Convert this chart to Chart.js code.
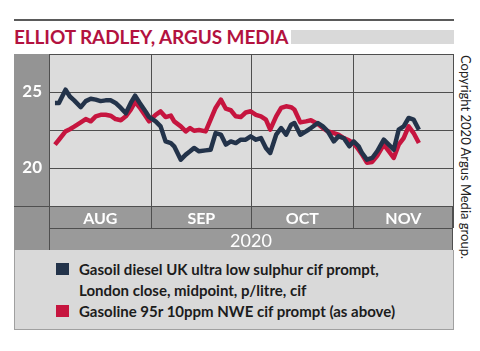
<!DOCTYPE html>
<html>
<head>
<meta charset="utf-8">
<script src="https://cdn.jsdelivr.net/npm/chart.js@4.4.1/dist/chart.umd.min.js"></script>
<style>
  body { margin: 0; background: #fff; font-family: Lato, sans-serif; }
  #page { position: relative; width: 480px; height: 351px; overflow: hidden; }
  #rule { position: absolute; left: 14px; top: 19px; width: 440px; height: 2px; background: #5a5a5a; }
  #title { position: absolute; left: 14px; top: 25px; font: bold 19px Lato, sans-serif; color: #b3123f; white-space: nowrap; letter-spacing: -0.1px; }
  #titlebar { position: absolute; left: 291px; top: 30px; width: 163px; height: 14px; background: #d9d9d9; }
  #chartbox { position: absolute; left: 14px; top: 54px; width: 440px; height: 196px; }
  #legend { position: absolute; left: 14px; top: 250px; width: 438px; height: 79px; background: #d9d9d9; border: 1px solid #a0a0a0; border-top: none; }
  .item { position: absolute; left: 64px; font: bold 15px Lato, sans-serif; line-height: 21px; color: #1c1c1c; white-space: nowrap; }
  .sw { position: absolute; left: -23px; top: 4px; width: 13px; height: 12px; }
  #copy { position: absolute; left: 458px; top: 55px; writing-mode: vertical-rl; font: 13px Lato, sans-serif; color: #222; white-space: nowrap; }
</style>
</head>
<body>
<div id="page">
  <div id="rule"></div>
  <div id="title">ELLIOT RADLEY, ARGUS MEDIA</div>
  <div id="titlebar"></div>
  <div id="chartbox"><canvas id="chart"></canvas></div>
  <div id="legend"></div>
  <div id="copy">Copyright 2020 Argus Media group.</div>
</div>
<script>
// days since 1 Aug 2020
const days = [1.8, 3.0, 5.0, 6.3, 7.6, 9.6, 11.1, 12.6, 14.1, 15.6, 17.1, 18.6, 20.1, 21.7, 23.2, 24.7, 26.0, 27.4, 29.2, 30.2,
  32.2, 33.7, 35.2, 36.8, 37.8, 39.8, 41.3, 42.6, 43.8, 45.3, 47.3, 48.8, 50.3, 51.9, 53.4, 54.9, 56.4, 57.9, 59.4, 60.9,
  62.5, 64.0, 65.5, 66.8, 68.6, 70.1, 71.6, 73.1, 74.1, 75.9, 77.6, 79.1, 81.2, 82.7, 84.2, 86.0, 87.4, 89.0, 90.7,
  92.0, 93.5, 94.5, 96.0, 97.6, 99.1, 101.1, 102.6, 104.1, 105.6, 107.1, 108.6, 110.1, 111.7];

// p/litre
const gasoil = [24.28, 24.28, 25.15, 24.7, 24.45, 24.0, 24.4, 24.56, 24.5, 24.4, 24.45, 24.45, 24.28, 23.95, 23.6, 24.28, 24.76, 24.28, 23.7, 23.36,
  23.07, 22.74, 21.75, 21.64, 21.43, 20.55, 20.88, 21.1, 21.32, 21.1, 21.16, 21.2, 22.3, 22.2, 21.54, 21.75, 21.64, 21.86, 21.86, 22.08,
  21.86, 21.97, 21.32, 20.99, 22.19, 22.63, 22.19, 22.85, 22.96, 22.19, 22.41, 22.63, 22.96, 22.74, 22.41, 21.75, 22.08, 21.97, 21.43,
  21.75, 21.43, 20.99, 20.55, 20.66, 21.1, 21.86, 21.54, 21.2, 22.52, 22.74, 23.29, 23.18, 22.52];

const gasoline = [21.54, 21.86, 22.41, 22.55, 22.72, 23.0, 23.22, 23.07, 23.4, 23.5, 23.5, 23.44, 23.22, 23.14, 23.4, 23.84, 24.35, 23.98, 23.4, 23.07,
  23.5, 23.72, 23.35, 23.45, 23.07, 22.74, 22.41, 22.63, 22.45, 22.5, 22.41, 23.18, 23.95, 24.5, 23.9, 23.8, 23.4, 23.35, 23.65, 23.73,
  23.5, 23.4, 23.18, 22.52, 23.4, 23.95, 24.06, 24.0, 23.85, 23.0, 23.07, 23.14, 22.9, 22.63, 22.41, 22.3, 22.2, 21.97, 21.8,
  21.64, 21.2, 20.9, 20.35, 20.4, 20.8, 21.54, 21.1, 20.66, 21.54, 21.97, 22.74, 22.3, 21.64];

const monthStarts = [0, 31, 61, 92, 122];
const monthLabels = ['AUG', 'SEP', 'OCT', 'NOV'];
const yearLabel = '2020';
const yTicks = [17.5, 20, 22.5, 25, 27.5];
const yLabelled = [20, 25];
const seriesLabels = [
    ['Gasoil diesel UK ultra low sulphur cif prompt,', 'London close, midpoint, p/litre, cif'],
    ['Gasoline 95r 10ppm NWE cif prompt (as above)']
];

const gridColor = '#4f4f4f';
const monthBand = 22;

// grey frame around the plot: y strip, month band, year band
const frame = {
    id: 'frame',
    beforeDraw(chart) {
        const { ctx, chartArea: a, height } = chart;
        ctx.save();
        ctx.fillStyle = '#dcdcdc';
        ctx.fillRect(a.left, a.top, a.right - a.left, a.bottom - a.top);
        ctx.fillStyle = '#949494';
        ctx.fillRect(0, a.top, a.left, height - a.top);
        ctx.fillStyle = '#9a9a9a';
        ctx.fillRect(a.left, a.bottom, a.right - a.left, height - a.bottom);
        ctx.strokeStyle = gridColor;
        ctx.lineWidth = 1;
        ctx.beginPath();
        ctx.moveTo(a.left, a.top + 0.5); ctx.lineTo(a.right, a.top + 0.5);
        ctx.moveTo(0, a.bottom + 0.5); ctx.lineTo(a.left, a.bottom + 0.5);
        ctx.moveTo(a.left, a.bottom + monthBand + 0.5); ctx.lineTo(a.right, a.bottom + monthBand + 0.5);
        ctx.moveTo(a.left + 0.5, a.bottom); ctx.lineTo(a.left + 0.5, height);
        ctx.moveTo(a.right - 0.5, a.bottom); ctx.lineTo(a.right - 0.5, height);
        ctx.stroke();
        ctx.restore();
    }
};

const mids = monthLabels.map((m, i) => (monthStarts[i] + monthStarts[i + 1]) / 2);

new Chart(document.getElementById('chart'), {
    type: 'line',
    data: {
        datasets: [
            {
                label: seriesLabels[0].join(' '),
                data: days.map((d, i) => ({ x: d, y: gasoil[i] })),
                borderColor: '#23334a',
                borderWidth: 4.5,
                pointRadius: 0,
                tension: 0,
                borderJoinStyle: 'round'
            },
            {
                label: seriesLabels[1].join(' '),
                data: days.map((d, i) => ({ x: d, y: gasoline[i] })),
                borderColor: '#c6153f',
                borderWidth: 4.5,
                pointRadius: 0,
                tension: 0,
                borderJoinStyle: 'round'
            }
        ]
    },
    options: {
        responsive: true,
        maintainAspectRatio: false,
        animation: false,
        devicePixelRatio: 1,
        layout: { autoPadding: false, padding: { top: 0, right: 1, bottom: 0, left: 0 } },
        plugins: { legend: { display: false }, tooltip: { enabled: false } },
        scales: {
            x: {
                type: 'linear',
                min: monthStarts[0],
                max: monthStarts[monthStarts.length - 1],
                afterBuildTicks: scale => {
                    const t = [];
                    monthStarts.forEach((s, i) => {
                        t.push({ value: s });
                        if (i < mids.length) t.push({ value: mids[i] });
                    });
                    scale.ticks = t;
                },
                afterFit: scale => {
                    scale.height = 44;
                    scale.paddingLeft = 0;
                    scale.paddingRight = 0;
                },
                grid: {
                    color: c => monthStarts.includes(c.tick.value) ? gridColor : 'rgba(0,0,0,0)',
                    tickLength: monthBand
                },
                border: { display: true, color: gridColor },
                ticks: {
                    autoSkip: false,
                    maxRotation: 0,
                    padding: -19,
                    color: '#fff',
                    font: { family: 'Lato', size: 16, weight: 'bold' },
                    callback: v => {
                        const i = mids.indexOf(v);
                        return i >= 0 ? monthLabels[i] : '';
                    }
                },
                title: {
                    display: true,
                    text: yearLabel,
                    color: '#fff',
                    padding: 0,
                    font: { family: 'Lato', size: 18, lineHeight: 1 }
                }
            },
            y: {
                min: yTicks[0],
                max: yTicks[yTicks.length - 1],
                afterBuildTicks: scale => { scale.ticks = yTicks.map(v => ({ value: v })); },
                afterFit: scale => {
                    scale.width = 35;
                    scale.paddingTop = 0;
                    scale.paddingBottom = 0;
                },
                grid: { color: gridColor, drawTicks: false },
                border: { display: true, color: gridColor },
                ticks: {
                    padding: 7,
                    color: '#fff',
                    font: { family: 'Lato', size: 17, weight: 'bold' },
                    callback: v => yLabelled.includes(v) ? String(v) : ''
                }
            }
        }
    },
    plugins: [frame]
});

// legend
const legend = document.getElementById('legend');
const legendColors = ['#23334a', '#c6153f'];
const legendTops = [9, 51];
seriesLabels.forEach((lines, i) => {
    const item = document.createElement('div');
    item.className = 'item';
    item.style.top = legendTops[i] + 'px';
    item.innerHTML = '<span class="sw" style="background:' + legendColors[i] + '"></span>' + lines.join('<br>');
    legend.appendChild(item);
});
</script>
</body>
</html>
